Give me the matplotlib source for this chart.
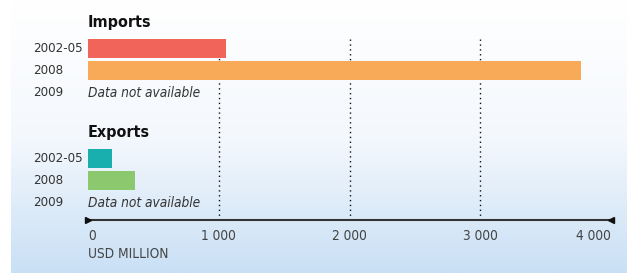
import numpy as np
import matplotlib
matplotlib.use("Agg")
import matplotlib.pyplot as plt

# data
years = ["2002-05", "2008", "2009"]
imports = [1053, 3770, None]
exports = [185, 360, None]
import_colors = ["#f0645a", "#f8aa58"]
export_colors = ["#1aafaf", "#8cc96e"]
ticks = [0, 1000, 2000, 3000, 4000]
tick_labels = ["0", "1 000", "2 000", "3 000", "4 000"]

W, H = 627, 273
fig = plt.figure(figsize=(W / 100, H / 100), dpi=100)

# background gradient
bg = fig.add_axes([11 / W, 0, 1 - 11 / W, 1])
grad = np.linspace(0, 1, 256).reshape(-1, 1)
cmap = matplotlib.colors.LinearSegmentedColormap.from_list("bg", ["#ffffff", "#f4f8fd", "#c9e0f5"])
bg.imshow(grad, aspect="auto", cmap=cmap, extent=[0, 1, 0, 1], origin="upper")
bg.axis("off")

fnt = dict(family="DejaVu Sans", stretch="condensed")
txtc = "#333333"

ax = fig.add_axes([88 / W, (H - 220) / H, 523 / W, 220 / H])
ax.patch.set_alpha(0)
ax.set_xlim(0, 4000)
ax.set_ylim(7.795, -2.205)

groups = [("Imports", imports, import_colors, 0), ("Exports", exports, export_colors, 5)]
for title, vals, cols, start in groups:
    ax.text(0, start - 1.2, title, fontsize=11.5, fontweight="bold", color="#111111",
            ha="left", va="center", **fnt)
    for i, (yr, v) in enumerate(zip(years, vals)):
        y = start + i
        ax.text(-55 / 523 * 4000, y, yr, fontsize=9.5, color=txtc,
                ha="left", va="center", **fnt)
        if v is None:
            ax.text(0, y, "Data not available", fontsize=9.8, style="italic",
                    color=txtc, ha="left", va="center", **fnt)
        else:
            ax.barh(y, v, height=0.87, color=cols[i], zorder=3)

# dotted gridlines
ax.vlines(ticks[1:4], -0.45, 7.795, colors="#111111", linestyles=(0, (1, 2.5)),
          linewidth=1, zorder=1)

# axis line with end markers
ax.plot([0, 4000], [7.795, 7.795], color="#333333", lw=1.5, clip_on=False, zorder=4)
ax.plot([0], [7.795], marker=">", color="#111111", ms=4, clip_on=False, zorder=5)
ax.plot([4000], [7.795], marker="<", color="#111111", ms=4, clip_on=False, zorder=5)

for t, lab in zip(ticks, tick_labels):
    ha = "left" if t == 0 else ("right" if t == 4000 else "center")
    ax.text(t, 8.5, lab, fontsize=9.8, color="#444444", ha=ha, va="center", **fnt)
ax.text(0, 9.35, "USD MILLION", fontsize=9.8, color="#444444", ha="left", va="center", **fnt)

for s in ax.spines.values():
    s.set_visible(False)
ax.set_xticks([])
ax.set_yticks([])

fig.savefig("out.png", dpi=100)
